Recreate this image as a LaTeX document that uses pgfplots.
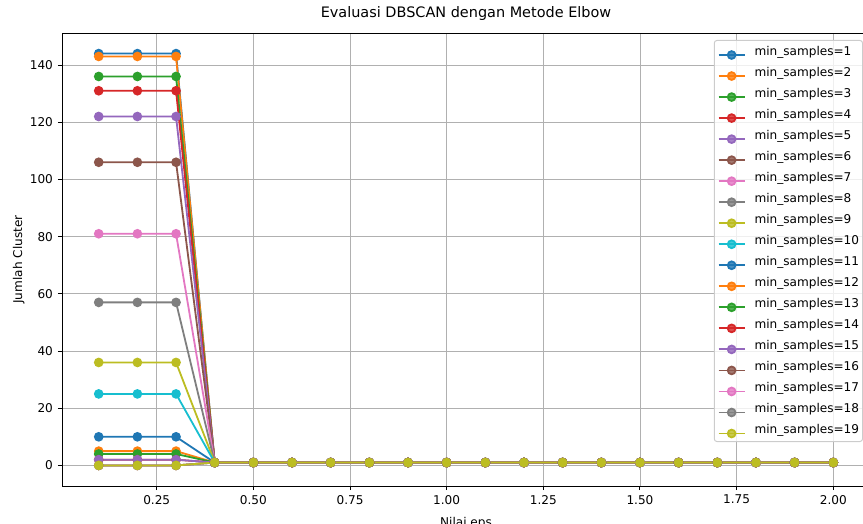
\documentclass[border=0pt]{standalone}
\usepackage{fontspec}
\setmainfont{DejaVu Sans}
\usepackage{pgfplots}
\usepackage{pgfplotstable}
\pgfplotsset{compat=1.18}
\definecolor{c0}{HTML}{1F77B4}
\definecolor{c1}{HTML}{FF7F0E}
\definecolor{c2}{HTML}{2CA02C}
\definecolor{c3}{HTML}{D62728}
\definecolor{c4}{HTML}{9467BD}
\definecolor{c5}{HTML}{8C564B}
\definecolor{c6}{HTML}{E377C2}
\definecolor{c7}{HTML}{7F7F7F}
\definecolor{c8}{HTML}{BCBD22}
\definecolor{c9}{HTML}{17BECF}
\definecolor{gridc}{HTML}{B0B0B0}
\definecolor{legc}{HTML}{CCCCCC}

\pgfplotstableread{
eps s1 s2 s3 s4 s5 s6 s7 s8 s9 s10 s11 s12 s13 s14 s15 s16 s17 s18 s19
0.1 144 143 136 131 122 106 81 57 36 25 10 5 4 2 2 0 0 0 0
0.2 144 143 136 131 122 106 81 57 36 25 10 5 4 2 2 0 0 0 0
0.3 144 143 136 131 122 106 81 57 36 25 10 5 4 2 2 0 0 0 0
0.4 1 1 1 1 1 1 1 1 1 1 1 1 1 1 1 1 1 1 1
0.5 1 1 1 1 1 1 1 1 1 1 1 1 1 1 1 1 1 1 1
0.6 1 1 1 1 1 1 1 1 1 1 1 1 1 1 1 1 1 1 1
0.7 1 1 1 1 1 1 1 1 1 1 1 1 1 1 1 1 1 1 1
0.8 1 1 1 1 1 1 1 1 1 1 1 1 1 1 1 1 1 1 1
0.9 1 1 1 1 1 1 1 1 1 1 1 1 1 1 1 1 1 1 1
1.0 1 1 1 1 1 1 1 1 1 1 1 1 1 1 1 1 1 1 1
1.1 1 1 1 1 1 1 1 1 1 1 1 1 1 1 1 1 1 1 1
1.2 1 1 1 1 1 1 1 1 1 1 1 1 1 1 1 1 1 1 1
1.3 1 1 1 1 1 1 1 1 1 1 1 1 1 1 1 1 1 1 1
1.4 1 1 1 1 1 1 1 1 1 1 1 1 1 1 1 1 1 1 1
1.5 1 1 1 1 1 1 1 1 1 1 1 1 1 1 1 1 1 1 1
1.6 1 1 1 1 1 1 1 1 1 1 1 1 1 1 1 1 1 1 1
1.7 1 1 1 1 1 1 1 1 1 1 1 1 1 1 1 1 1 1 1
1.8 1 1 1 1 1 1 1 1 1 1 1 1 1 1 1 1 1 1 1
1.9 1 1 1 1 1 1 1 1 1 1 1 1 1 1 1 1 1 1 1
2.0 1 1 1 1 1 1 1 1 1 1 1 1 1 1 1 1 1 1 1
}\datatable

\begin{document}
\begin{tikzpicture}
\useasboundingbox (-44.64pt,-27.36pt) rectangle (576.72pt,349.92pt);
\clip (-44.64pt,-27.36pt) rectangle (576.72pt,349.92pt);
\begin{axis}[
  at={(0,0)}, anchor=south west,
  scale only axis, width=581.76pt, height=326.16pt,
  xmin=0.005, xmax=2.095, ymin=-7.2, ymax=151.2,
  xtick={0.25,0.5,0.75,1.0,1.25,1.5,1.75,2.0},
  ytick={0,20,40,60,80,100,120,140},
  xticklabel style={/pgf/number format/.cd, fixed, fixed zerofill, precision=2},
  /pgf/number format/assume math mode=true,
  tick label style={font=\fontsize{8.7}{10.4}\selectfont},
  tick align=outside, major tick length=3pt,
  tick style={black, line width=0.7pt},
  xtick pos=bottom, ytick pos=left,
  axis line style={line width=0.7pt},
  grid=major,
  major grid style={gridc, line width=0.6pt},
  title={Evaluasi DBSCAN dengan Metode Elbow},
  title style={at={(axis description cs:0.5,1.01545)}, anchor=base, font=\fontsize{10.4}{12.5}\selectfont, inner sep=0pt},
  xlabel={Nilai eps},
  xlabel style={at={(axis description cs:0.5,-0.0883)}, anchor=base, inner sep=0pt, font=\fontsize{8.7}{10.4}\selectfont},
  ylabel={Jumlah Cluster},
  ylabel style={at={(axis description cs:-0.0495,0.5)}, anchor=base, inner sep=0pt, font=\fontsize{8.7}{10.4}\selectfont},
  every axis plot/.append style={line width=1.3pt, mark=*, mark size=2.8pt, mark options={solid}},
  cycle list={
    {c0, mark options={fill=c0}},
    {c1, mark options={fill=c1}},
    {c2, mark options={fill=c2}},
    {c3, mark options={fill=c3}},
    {c4, mark options={fill=c4}},
    {c5, mark options={fill=c5}},
    {c6, mark options={fill=c6}},
    {c7, mark options={fill=c7}},
    {c8, mark options={fill=c8}},
    {c9, mark options={fill=c9}}
  },
  legend cell align=left,
  legend image code/.code={\draw[mark repeat=2,mark phase=2] plot coordinates {(0pt,0pt) (9.35pt,0pt) (18.7pt,0pt)};},
  legend style={
    at={(rel axis cs:1,1)}, anchor=north east, xshift=-5pt, yshift=-5pt,
    font=\fontsize{8.7}{10.4}\selectfont,
    draw=legc, line width=0.7pt, rounded corners=2pt,
    fill=white, fill opacity=0.8, draw opacity=1, text opacity=1,
    inner xsep=2.5pt, inner ysep=3pt,
    row sep=4.84pt,
    nodes={inner sep=0pt, text height=7.5pt, text depth=2.5pt, anchor=base west},
    /tikz/every odd column/.append style={column sep=6.5pt},
  },
]
\addplot table[x=eps, y=s1] {\datatable};
\addlegendentry{min\_samples=1}
\addplot table[x=eps, y=s2] {\datatable};
\addlegendentry{min\_samples=2}
\addplot table[x=eps, y=s3] {\datatable};
\addlegendentry{min\_samples=3}
\addplot table[x=eps, y=s4] {\datatable};
\addlegendentry{min\_samples=4}
\addplot table[x=eps, y=s5] {\datatable};
\addlegendentry{min\_samples=5}
\addplot table[x=eps, y=s6] {\datatable};
\addlegendentry{min\_samples=6}
\addplot table[x=eps, y=s7] {\datatable};
\addlegendentry{min\_samples=7}
\addplot table[x=eps, y=s8] {\datatable};
\addlegendentry{min\_samples=8}
\addplot table[x=eps, y=s9] {\datatable};
\addlegendentry{min\_samples=9}
\addplot table[x=eps, y=s10] {\datatable};
\addlegendentry{min\_samples=10}
\addplot table[x=eps, y=s11] {\datatable};
\addlegendentry{min\_samples=11}
\addplot table[x=eps, y=s12] {\datatable};
\addlegendentry{min\_samples=12}
\addplot table[x=eps, y=s13] {\datatable};
\addlegendentry{min\_samples=13}
\addplot table[x=eps, y=s14] {\datatable};
\addlegendentry{min\_samples=14}
\addplot table[x=eps, y=s15] {\datatable};
\addlegendentry{min\_samples=15}
\addplot table[x=eps, y=s16] {\datatable};
\addlegendentry{min\_samples=16}
\addplot table[x=eps, y=s17] {\datatable};
\addlegendentry{min\_samples=17}
\addplot table[x=eps, y=s18] {\datatable};
\addlegendentry{min\_samples=18}
\addplot table[x=eps, y=s19] {\datatable};
\addlegendentry{min\_samples=19}
\end{axis}
\end{tikzpicture}
\end{document}
